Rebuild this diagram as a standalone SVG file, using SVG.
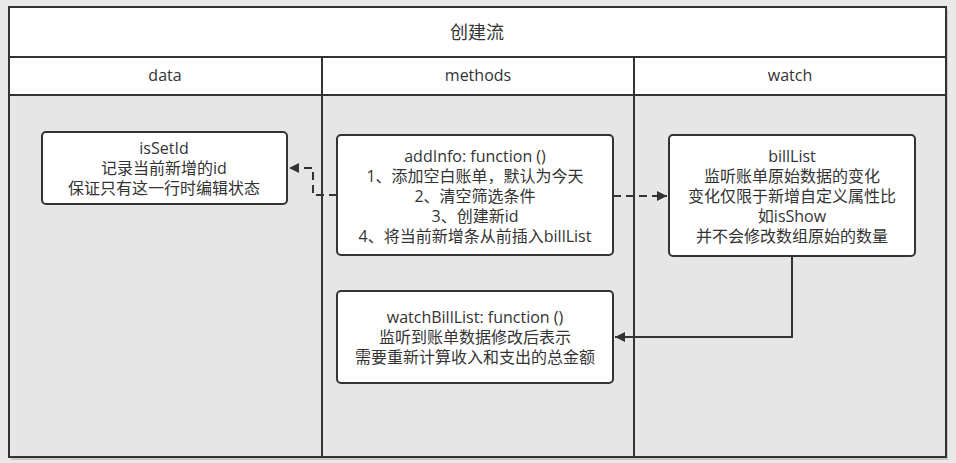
<svg xmlns="http://www.w3.org/2000/svg" width="956" height="463" viewBox="0 0 956 463">
<style>
.t{font-family:"Open Sans","Noto Sans CJK SC",sans-serif;font-size:16px;fill:#333;text-anchor:middle}
.ttl{font-size:18px}
.box{fill:#fff;stroke:#333;stroke-width:2}
.lane{fill:#e6e6e6;stroke:#333;stroke-width:2}
.hdr{fill:#fff;stroke:#333;stroke-width:2}
.c{fill:none;stroke:#333;stroke-width:2}
.d{stroke-dasharray:8 5}
</style>
<defs>
<marker id="ah" viewBox="0 0 10 10" refX="10" refY="5" markerWidth="13" markerHeight="10" markerUnits="userSpaceOnUse" orient="auto">
<path d="M0,0 L10,5 L0,10 Z" fill="#333"/>
</marker>
</defs>
<rect x="0" y="0" width="956" height="463" fill="#e9e9e9"/>
<rect x="11" y="10" width="937" height="450" fill="#c8c8c8"/>
<g id="pool">
<rect class="lane" x="9" y="7" width="937" height="450"/>
<rect class="hdr" x="9" y="7" width="937" height="50"/>
<text class="t ttl" x="477" y="39">创建流</text>
</g>
<g id="lane-data">
<rect class="hdr" x="9" y="57" width="313" height="38"/>
<text class="t" x="165" y="81">data</text>
<line class="c" x1="322" y1="95" x2="322" y2="457"/>
</g>
<g id="lane-methods">
<rect class="hdr" x="322" y="57" width="312" height="38"/>
<text class="t" x="478" y="81">methods</text>
<line class="c" x1="634" y1="95" x2="634" y2="457"/>
</g>
<g id="lane-watch">
<rect class="hdr" x="634" y="57" width="312" height="38"/>
<text class="t" x="790" y="81">watch</text>
</g>
<g id="connectors">
<path class="c d" d="M337,195 H313 V168 H289" marker-end="url(#ah)"/>
<path class="c d" d="M613,196 H667" marker-end="url(#ah)"/>
<path class="c" d="M792,256 V337 H615" marker-end="url(#ah)"/>
</g>
<g id="isSetId">
<rect class="box" x="42" y="132" width="245" height="72" rx="4"/>
<text class="t"><tspan x="164" y="154">isSetId</tspan><tspan x="164" y="174">记录当前新增的id</tspan><tspan x="164" y="194">保证只有这一行时编辑状态</tspan></text>
</g>
<g id="addInfo">
<rect class="box" x="337" y="135" width="276" height="120" rx="4"/>
<text class="t"><tspan x="475" y="162">addInfo: function ()</tspan><tspan x="475" y="182">1、添加空白账单，默认为今天</tspan><tspan x="475" y="202">2、清空筛选条件</tspan><tspan x="475" y="222">3、创建新id</tspan><tspan x="475" y="242">4、将当前新增条从前插入billList</tspan></text>
</g>
<g id="billList">
<rect class="box" x="669" y="135" width="246" height="121" rx="4"/>
<text class="t"><tspan x="792" y="162">billList</tspan><tspan x="792" y="182">监听账单原始数据的变化</tspan><tspan x="792" y="202">变化仅限于新增自定义属性比</tspan><tspan x="792" y="222">如isShow</tspan><tspan x="792" y="242">并不会修改数组原始的数量</tspan></text>
</g>
<g id="watchBillList">
<rect class="box" x="337" y="291" width="276" height="92" rx="4"/>
<text class="t"><tspan x="475" y="323">watchBillList: function ()</tspan><tspan x="475" y="343">监听到账单数据修改后表示</tspan><tspan x="475" y="363">需要重新计算收入和支出的总金额</tspan></text>
</g>
</svg>
